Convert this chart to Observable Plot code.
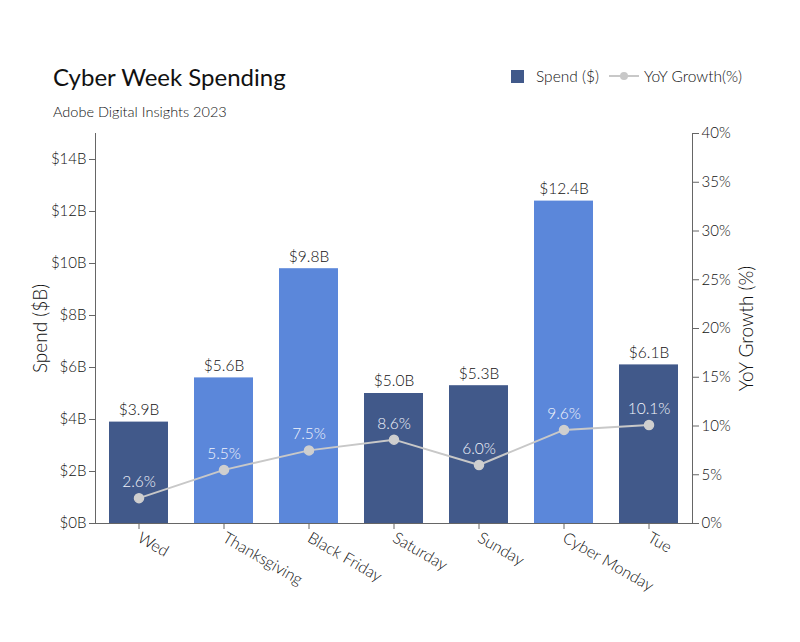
<!DOCTYPE html>
<html>
<head>
<meta charset="utf-8">
<script src="https://cdn.jsdelivr.net/npm/d3@7"></script>
<script src="https://cdn.jsdelivr.net/npm/@observablehq/plot@0.6"></script>
<style>
  html, body { margin: 0; padding: 0; background: #fff; }
  #wrap { position: relative; width: 800px; height: 642px; font-family: Lato, "Noto Sans", sans-serif; font-weight: 300; color: #111; }
  #title { position: absolute; left: 53px; top: 62px; font-size: 24px; color: #111; font-weight: 400; }
  #subtitle { position: absolute; left: 53px; top: 103px; font-size: 14.5px; color: #111; }
  #legend { position: absolute; left: 511px; top: 67px; font-size: 15.5px; color: #111; display: flex; align-items: center; }
  #legend .sw { width: 13px; height: 13px; background: #41598a; margin-right: 12px; }
  #legend svg { margin: 0 5px 0 10px; }
  #chart { position: absolute; left: 0; top: 0; }
  #chart svg text { font-weight: 300; }
</style>
</head>
<body>
<div id="wrap">
  <div id="chart"></div>
  <div id="title">Cyber Week Spending</div>
  <div id="subtitle">Adobe Digital Insights 2023</div>
  <div id="legend"><div class="sw"></div><span>Spend ($)</span><svg width="30" height="12"><line x1="0" y1="6" x2="30" y2="6" stroke="#c8c8c8" stroke-width="2"/><circle cx="15" cy="6" r="4" fill="#c8c8c8"/></svg><span>YoY Growth(%)</span></div>
</div>
<script>
const days = ["Wed", "Thanksgiving", "Black Friday", "Saturday", "Sunday", "Cyber Monday", "Tue"];
const spend = [3.9, 5.6, 9.8, 5.0, 5.3, 12.4, 6.1];
const growth = [2.6, 5.5, 7.5, 8.6, 6.0, 9.6, 10.1];
const highlight = [false, true, true, false, false, true, false];
const spendTicks = [0, 2, 4, 6, 8, 10, 12, 14];
const growthTicks = [0, 5, 10, 15, 20, 25, 30, 35, 40];

const spendMax = 15, growthMax = 40;
const toSpend = g => g * spendMax / growthMax;

const data = days.map((d, i) => ({day: d, spend: spend[i], growth: growth[i], hl: highlight[i]}));

const dark = "#41598a", light = "#5b87da";
const font = "Lato, Noto Sans, sans-serif";

const chart = Plot.plot({
  width: 800,
  height: 642,
  marginLeft: 95,
  marginRight: 108,
  marginTop: 133,
  marginBottom: 119,
  style: {fontFamily: font, fontSize: "15px", color: "#111", background: "transparent"},
  x: {domain: days, paddingInner: 0.3, paddingOuter: 0.15},
  y: {domain: [0, spendMax]},
  marks: [
    Plot.barY(data, {x: "day", y: "spend", fill: d => d.hl ? light : dark}),
    Plot.frame({anchor: "left", stroke: "#666"}),
    Plot.frame({anchor: "right", stroke: "#666"}),
    Plot.ruleY([0], {stroke: "#666"}),
    Plot.axisY({ticks: spendTicks, tickFormat: d => `$${d}B`, tickSize: 6, tickPadding: 3, fontSize: 15, stroke: "#666",
      label: "Spend ($B)", labelAnchor: "center", labelArrow: "none", labelOffset: 62}),
    Plot.axisY(growthTicks.map(toSpend), {anchor: "right", tickFormat: d => `${Math.round(d * growthMax / spendMax)}%`, tickSize: 6, tickPadding: 3, fontSize: 15, stroke: "#666",
      label: "YoY Growth (%)", labelAnchor: "center", labelArrow: "none", labelOffset: 60}),
    Plot.axisX({tickRotate: 30, tickSize: 6, tickPadding: 7, fontSize: 16, stroke: "#666", label: null}),
    Plot.text(data, {x: "day", y: "spend", text: d => `$${d.spend.toFixed(1)}B`, dy: -12, fontSize: 15.5, fill: "#111"}),
    Plot.line(data, {x: "day", y: d => toSpend(d.growth), stroke: "#c8c8c8", strokeWidth: 2}),
    Plot.dot(data, {x: "day", y: d => toSpend(d.growth), r: 4.5, fill: "#cfcfcf", stroke: "#cfcfcf"}),
    Plot.text(data, {x: "day", y: d => toSpend(d.growth), text: d => `${d.growth.toFixed(1)}%`, dy: -16, fontSize: 15.5, fill: "#f2f4fb"})
  ]
});
chart.querySelectorAll("[aria-label='y-axis label']").forEach(t => { t.setAttribute("font-size", "19"); });
document.getElementById("chart").appendChild(chart);
</script>
</body>
</html>
